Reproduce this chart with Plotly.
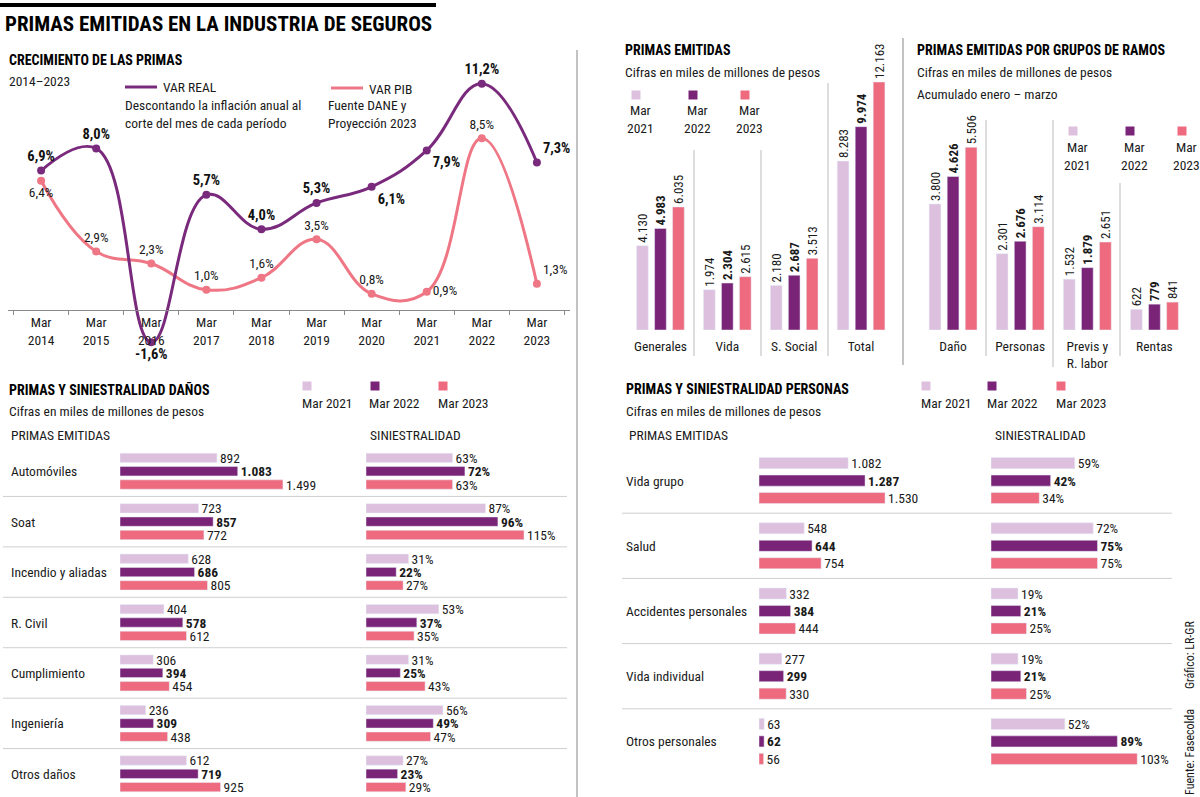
import plotly.graph_objects as go

W, H = 1200, 797
def X(px): return px / W
def Y(py): return 1 - py / H

FONT = "Roboto Condensed, Liberation Sans Narrow, Arial Narrow, DejaVu Sans Condensed, sans-serif"
TXT = "#1a1a1a"
C21 = "#DCC0DE"
C22 = "#7A2478"
C23 = "#EE6B7F"
LINE_REAL = "#7A2A7C"
LINE_PIB = "#EF7684"
BODY = 13.5
VAL = 13.5
HEAD = 14

# ---------------- data ----------------
years = ["Mar 2014", "Mar 2015", "Mar 2016", "Mar 2017", "Mar 2018",
         "Mar 2019", "Mar 2020", "Mar 2021", "Mar 2022", "Mar 2023"]
var_real = [6.9, 8.0, -1.6, 5.7, 4.0, 5.3, 6.1, 7.9, 11.2, 7.3]
var_pib = [6.4, 2.9, 2.3, 1.0, 1.6, 3.5, 0.8, 0.9, 8.5, 1.3]

periods = ["Mar 2021", "Mar 2022", "Mar 2023"]

emit_cats = ["Generales", "Vida", "S. Social", "Total"]
emit_2021 = [4130, 1974, 2180, 8283]
emit_2022 = [4983, 2304, 2687, 9974]
emit_2023 = [6035, 2615, 3513, 12163]

ramos_cats = ["Daño", "Personas", "Previs y R. labor", "Rentas"]
ramos_labels = ["Daño", "Personas", "Previs y<br>R. labor", "Rentas"]
ramos_2021 = [3800, 2301, 1532, 622]
ramos_2022 = [4626, 2676, 1879, 779]
ramos_2023 = [5506, 3114, 2651, 841]

danos_cats = ["Automóviles", "Soat", "Incendio y aliadas", "R. Civil",
              "Cumplimiento", "Ingeniería", "Otros daños"]
danos_primas_2021 = [892, 723, 628, 404, 306, 236, 612]
danos_primas_2022 = [1083, 857, 686, 578, 394, 309, 719]
danos_primas_2023 = [1499, 772, 805, 612, 454, 438, 925]
danos_sin_2021 = [63, 87, 31, 53, 31, 56, 27]
danos_sin_2022 = [72, 96, 22, 37, 25, 49, 23]
danos_sin_2023 = [63, 115, 27, 35, 43, 47, 29]

pers_cats = ["Vida grupo", "Salud", "Accidentes personales",
             "Vida individual", "Otros personales"]
pers_primas_2021 = [1082, 548, 332, 277, 63]
pers_primas_2022 = [1287, 644, 384, 299, 62]
pers_primas_2023 = [1530, 754, 444, 330, 56]
pers_sin_2021 = [59, 72, 19, 19, 52]
pers_sin_2022 = [42, 75, 21, 21, 89]
pers_sin_2023 = [34, 75, 25, 25, 103]

colors = [C21, C22, C23]

def miles(v):
    return f"{v:,}".replace(",", ".")

def pct1(v):
    return f"{v:.1f}%".replace(".", ",")

def pct0(v):
    return f"{v}%"

def fmt(vals, i, f):
    out = [f(v) for v in vals]
    if i == 1:
        out = [f"<b>{t}</b>" for t in out]
    return out

fig = go.Figure()

# ---------------- line chart ----------------
pos_real = ["top center", "top center", "bottom center", "top center", "top center",
            "top center", "bottom right", "bottom right", "top center", "top right"]
pos_pib = ["bottom center", "top center", "top center", "top center", "top center",
           "top center", "top center", "middle right", "top center", "top right"]

fig.add_trace(go.Scatter(
    x=years, y=var_pib, name="VAR PIB", mode="lines+markers+text",
    line=dict(color=LINE_PIB, width=3, shape="spline", smoothing=1.2),
    marker=dict(size=8, color=LINE_PIB),
    text=[pct1(v) for v in var_pib], textposition=pos_pib,
    textfont=dict(size=VAL, color=TXT, family=FONT),
    cliponaxis=False, xaxis="x", yaxis="y", showlegend=False))
fig.add_trace(go.Scatter(
    x=years, y=var_real, name="VAR REAL", mode="lines+markers+text",
    line=dict(color=LINE_REAL, width=3, shape="spline", smoothing=1.2),
    marker=dict(size=8, color=LINE_REAL),
    text=[f"<b>{pct1(v)}</b>" for v in var_real], textposition=pos_real,
    textfont=dict(size=VAL + 1, color="#111", family=FONT),
    cliponaxis=False, xaxis="x", yaxis="y", showlegend=False))

# ---------------- vertical bar charts ----------------
vslot, vwidth = 0.269, 0.175
for i, (vals, col) in enumerate(zip([emit_2021, emit_2022, emit_2023], colors)):
    fig.add_trace(go.Bar(
        x=emit_cats, y=vals, name=periods[i], marker_color=col,
        width=vwidth, offset=(i - 1) * vslot - vwidth / 2,
        text=fmt(vals, i, miles), textposition="outside", textangle=-90,
        constraintext="none", textfont=dict(size=VAL - 0.5, color=TXT, family=FONT),
        cliponaxis=False, xaxis="x2", yaxis="y2", showlegend=False))
for i, (vals, col) in enumerate(zip([ramos_2021, ramos_2022, ramos_2023], colors)):
    fig.add_trace(go.Bar(
        x=ramos_cats, y=vals, name=periods[i], marker_color=col,
        width=vwidth, offset=(i - 1) * vslot - vwidth / 2,
        text=fmt(vals, i, miles), textposition="outside", textangle=-90,
        constraintext="none", textfont=dict(size=VAL - 0.5, color=TXT, family=FONT),
        cliponaxis=False, xaxis="x3", yaxis="y3", showlegend=False))

# ---------------- horizontal bar charts ----------------
def hbars(cats, series, fmtf, xa, ya, slot, width):
    for i, (vals, col) in enumerate(zip(series, colors)):
        fig.add_trace(go.Bar(
            y=cats, x=vals, orientation="h", name=periods[i], marker_color=col,
            width=width, offset=(i - 1) * slot - width / 2,
            text=fmt(vals, i, fmtf), textposition="outside",
            constraintext="none", textfont=dict(size=VAL, color=TXT, family=FONT),
            cliponaxis=False, xaxis=xa, yaxis=ya, showlegend=False))

hbars(danos_cats, [danos_primas_2021, danos_primas_2022, danos_primas_2023],
      miles, "x4", "y4", 0.264, 0.185)
hbars(danos_cats, [danos_sin_2021, danos_sin_2022, danos_sin_2023],
      pct0, "x5", "y5", 0.264, 0.185)
hbars(pers_cats, [pers_primas_2021, pers_primas_2022, pers_primas_2023],
      miles, "x6", "y6", 0.268, 0.17)
hbars(pers_cats, [pers_sin_2021, pers_sin_2022, pers_sin_2023],
      pct0, "x7", "y7", 0.268, 0.17)

# ---------------- axes ----------------
hidden = dict(visible=False, fixedrange=True)
fig.update_layout(
    xaxis=dict(domain=[X(8), X(570)], type="category", anchor="free", position=Y(310),
               showline=True, linecolor="#8a8a8a", linewidth=1, ticks="outside",
               tickson="boundaries", ticklen=4, tickcolor="#8a8a8a",
               tickvals=years, ticktext=[y.replace(" ", "<br>") for y in years],
               tickfont=dict(size=BODY, color=TXT), showgrid=False, zeroline=False,
               fixedrange=True),
    yaxis=dict(domain=[Y(372), Y(50)], range=[-(372 - 310) / 20.2, (310 - 50) / 20.2],
               anchor="x", **hidden),
    xaxis2=dict(domain=[X(627), X(894.5)], type="category", anchor="y2",
                showline=False, ticks="", showgrid=False, zeroline=False,
                tickfont=dict(size=BODY, color=TXT), ticklabelstandoff=6, fixedrange=True),
    yaxis2=dict(domain=[Y(330), Y(40)], range=[0, 290 / 0.02039], anchor="x2", **hidden),
    xaxis3=dict(domain=[X(919.5), X(1188)], type="category", anchor="y3",
                tickvals=ramos_cats, ticktext=ramos_labels,
                showline=False, ticks="", showgrid=False, zeroline=False,
                tickfont=dict(size=BODY, color=TXT), ticklabelstandoff=6, fixedrange=True),
    yaxis3=dict(domain=[Y(330), Y(40)], range=[0, 290 / 0.03318], anchor="x3", **hidden),
    xaxis4=dict(domain=[X(120), X(340)], range=[0, 220 / 0.1087], anchor="y4", **hidden),
    yaxis4=dict(domain=[Y(797), Y(446)], type="category", categoryorder="array",
                categoryarray=danos_cats, range=[6.46, -0.5], anchor="x4", **hidden),
    xaxis5=dict(domain=[X(366), X(560)], range=[0, 194 / 1.374], anchor="y5", **hidden),
    yaxis5=dict(domain=[Y(797), Y(446)], type="category", categoryorder="array",
                categoryarray=danos_cats, range=[6.46, -0.5], anchor="x5", **hidden),
    xaxis6=dict(domain=[X(759), X(975)], range=[0, 216 / 0.0824], anchor="y6", **hidden),
    yaxis6=dict(domain=[Y(774), Y(448)], type="category", categoryorder="array",
                categoryarray=pers_cats, range=[4.5, -0.5], anchor="x6", **hidden),
    xaxis7=dict(domain=[X(991), X(1170)], range=[0, 179 / 1.42], anchor="y7", **hidden),
    yaxis7=dict(domain=[Y(774), Y(448)], type="category", categoryorder="array",
                categoryarray=pers_cats, range=[4.5, -0.5], anchor="x7", **hidden),
)

# ---------------- shapes ----------------
shapes = []
def vline(x, y0, y1, color="#BBBBBB", w=1):
    shapes.append(dict(type="line", xref="paper", yref="paper",
                       x0=X(x), x1=X(x), y0=Y(y0), y1=Y(y1),
                       line=dict(color=color, width=w)))

shapes.append(dict(type="rect", xref="paper", yref="paper", x0=X(0), x1=X(436),
                   y0=Y(7), y1=Y(3), fillcolor="#000", line=dict(width=0)))
vline(577, 50, 797, "#9a9a9a", 1.2)
vline(903, 38, 365, "#9a9a9a", 1.2)
for x, y0 in [(694, 150), (761, 150), (828, 83)]:
    vline(x, y0, 356)
for x, y0, y1 in [(986, 120, 356), (1053, 120, 367), (1120, 183, 356)]:
    vline(x, y0, y1)

for k in range(len(danos_cats) - 1):
    shapes.append(dict(type="line", xref="paper", yref="y4", x0=X(3), x1=X(567),
                       y0=k + 0.5, y1=k + 0.5, line=dict(color="#CFCFCF", width=1)))
for k in range(len(pers_cats) - 1):
    shapes.append(dict(type="line", xref="paper", yref="y6", x0=X(622), x1=X(1172),
                       y0=k + 0.5, y1=k + 0.5, line=dict(color="#CFCFCF", width=1)))

# line chart legend samples
shapes.append(dict(type="line", xref="paper", yref="paper", x0=X(125), x1=X(157),
                   y0=Y(87), y1=Y(87), line=dict(color=LINE_REAL, width=3)))
shapes.append(dict(type="line", xref="paper", yref="paper", x0=X(331), x1=X(363),
                   y0=Y(88), y1=Y(88), line=dict(color=LINE_PIB, width=3)))

def square(cx, cy, col, s=9):
    shapes.append(dict(type="rect", xref="paper", yref="paper",
                       x0=X(cx - s / 2), x1=X(cx + s / 2), y0=Y(cy + s / 2), y1=Y(cy - s / 2),
                       fillcolor=col, line=dict(width=0)))

# ---------------- annotations ----------------
ann = []
def text(x, y, t, size=BODY, xanchor="left", bold=False, color=TXT, **kw):
    if bold:
        t = f"<b>{t}</b>"
    ann.append(dict(x=X(x), y=Y(y), xref="paper", yref="paper", text=t, showarrow=False,
                    xanchor=xanchor, yanchor="middle", align="left" if xanchor == "left" else "center",
                    font=dict(size=size, color=color, family=FONT), **kw))

text(3, 24, "PRIMAS EMITIDAS EN LA INDUSTRIA DE SEGUROS", size=21, bold=True, color="#000")

# line chart
text(7, 60, "CRECIMIENTO DE LAS PRIMAS", size=HEAD, bold=True, color="#000")
text(7, 81, "2014–2023", size=BODY)
text(161, 87, fig.data[1].name, size=BODY)
text(123, 114, "Descontando la inflación anual al<br>corte del mes de cada período", size=BODY)
text(367, 89, fig.data[0].name, size=BODY)
text(326, 114, "Fuente DANE y<br>Proyección 2023", size=BODY)

# top middle
text(623, 50, "PRIMAS EMITIDAS", size=HEAD, bold=True, color="#000")
text(623, 72, "Cifras en miles de millones de pesos", size=BODY)
for cx, sqx, p, col in zip([640, 697, 749], [636, 693, 745], periods, colors):
    square(sqx, 95, col)
    text(cx, 119, p.replace(" ", "<br>"), size=BODY, xanchor="center")

# top right
text(915, 50, "PRIMAS EMITIDAS POR GRUPOS DE RAMOS", size=HEAD, bold=True, color="#000")
text(915, 72, "Cifras en miles de millones de pesos", size=BODY)
text(915, 94, "Acumulado enero – marzo", size=BODY)
for cx, sqx, p, col in zip([1077, 1134, 1186], [1073, 1130, 1182], periods, colors):
    square(sqx, 131, col)
    text(cx, 156, p.replace(" ", "<br>"), size=BODY, xanchor="center")

# bottom left
text(7, 389, "<b>PRIMAS Y SINIESTRALIDAD DAÑOS</b>", size=HEAD, color="#000")
text(7, 411, "Cifras en miles de millones de pesos", size=BODY)
text(9, 435, "PRIMAS EMITIDAS", size=BODY)
text(368, 435, "SINIESTRALIDAD", size=BODY)
for sqx, tx, p, col in zip([307, 375, 443], [300, 367, 436], periods, colors):
    square(sqx, 386, col)
    text(tx, 403, p, size=BODY)
for c in danos_cats:
    ann.append(dict(x=X(9), y=c, xref="paper", yref="y4", text=c, showarrow=False,
                    xanchor="left", yanchor="middle",
                    font=dict(size=BODY, color=TXT, family=FONT)))

# bottom right
text(624, 389, "<b>PRIMAS Y SINIESTRALIDAD PERSONAS</b>", size=HEAD, color="#000")
text(624, 411, "Cifras en miles de millones de pesos", size=BODY)
text(627, 435, "PRIMAS EMITIDAS", size=BODY)
text(993, 435, "SINIESTRALIDAD", size=BODY)
for sqx, tx, p, col in zip([926, 992, 1061], [919, 985, 1054], periods, colors):
    square(sqx, 386, col)
    text(tx, 403, p, size=BODY)
for c in pers_cats:
    ann.append(dict(x=X(624), y=c, xref="paper", yref="y6", text=c, showarrow=False,
                    xanchor="left", yanchor="middle",
                    font=dict(size=BODY, color=TXT, family=FONT)))

# source
ann.append(dict(x=X(1190), y=Y(655), xref="paper", yref="paper", text="Gráfico: LR-GR",
                showarrow=False, textangle=-90, xanchor="center", yanchor="middle",
                font=dict(size=12, color=TXT, family=FONT)))
ann.append(dict(x=X(1190), y=Y(752), xref="paper", yref="paper", text="Fuente: Fasecolda",
                showarrow=False, textangle=-90, xanchor="center", yanchor="middle",
                font=dict(size=12, color=TXT, family=FONT)))

fig.update_layout(
    width=W, height=H, margin=dict(l=0, r=0, t=0, b=0),
    paper_bgcolor="white", plot_bgcolor="rgba(0,0,0,0)",
    font=dict(family=FONT, color=TXT, size=BODY),
    shapes=shapes, annotations=ann, showlegend=False, barmode="group",
)

fig.write_html("out.html", config={"displayModeBar": False},
               post_script="document.body.style.margin='0';document.body.style.overflow='hidden';")
